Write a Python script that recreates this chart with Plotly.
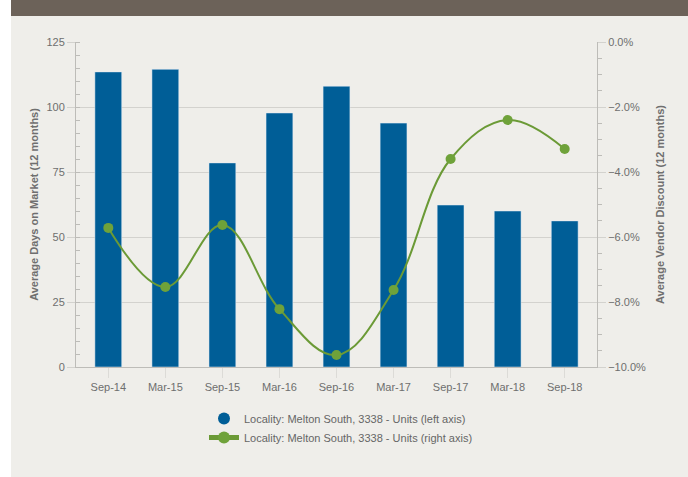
import plotly.graph_objects as go

categories = ["Sep-14", "Mar-15", "Sep-15", "Mar-16", "Sep-16", "Mar-17", "Sep-17", "Mar-18", "Sep-18"]
days_on_market = [113.5, 114.5, 78.5, 97.7, 108.0, 93.8, 62.3, 60.0, 56.2]
vendor_discount = [-5.72, -7.54, -5.63, -8.22, -9.63, -7.63, -3.60, -2.40, -3.29]
left_label = "Locality: Melton South, 3338 - Units (left axis)"
right_label = "Locality: Melton South, 3338 - Units (right axis)"

W, H = 688, 477
L, R, T, B = 76, 91, 42, 110
pw, ph = W - L - R, H - T - B

def px_x(p):
    return (p - L) / pw

def px_y(p):
    return (H - B - p) / ph

bar_color = "#005e97"
line_color = "#6b9a36"
marker_color = "#6fa23a"
font_color = "#6e6e6e"
grid_color = "#d3d2ce"
axis_color = "#bdbcb8"

fig = go.Figure()
fig.add_trace(go.Bar(x=categories, y=days_on_market, marker_color=bar_color,
                     width=0.47, showlegend=False, yaxis="y"))
fig.add_trace(go.Scatter(x=[None], y=[None], mode="markers", name=left_label,
                         marker=dict(symbol="circle", size=11, color=bar_color), yaxis="y"))
fig.add_trace(go.Scatter(x=categories, y=vendor_discount, mode="lines+markers", name=right_label,
                         line=dict(color=line_color, width=2, shape="spline", smoothing=1.1),
                         marker=dict(size=10, color=marker_color), yaxis="y2"))

fig.update_layout(
    width=W, height=H,
    margin=dict(l=L, r=R, t=T, b=B),
    paper_bgcolor="white",
    plot_bgcolor="rgba(0,0,0,0)",
    font=dict(family="Liberation Sans, Arial, sans-serif", size=11, color=font_color),
    bargap=0.5,
    xaxis=dict(type="category", showgrid=False, showline=True, linecolor=axis_color,
               ticks="outside", ticklen=10, tickcolor="#dcdbd7",
               tickfont=dict(size=11, color=font_color)),
    yaxis=dict(range=[0, 125], dtick=25, showgrid=True, gridcolor=grid_color, gridwidth=1,
               showline=True, linecolor=axis_color, ticks="outside", ticklen=8, tickcolor=grid_color,
               minor=dict(dtick=5, ticks="inside", ticklen=4, tickcolor=axis_color, showgrid=False),
               zeroline=False,
               title=dict(text="<b>Average Days on Market (12 months)</b>", font=dict(size=11, color="#6f6f6f"), standoff=5),
               tickfont=dict(size=11, color=font_color)),
    yaxis2=dict(range=[-10, 0], dtick=2, overlaying="y", side="right", showgrid=False,
                showline=True, linecolor=axis_color, ticks="outside", ticklen=8, tickcolor=grid_color,
                minor=dict(dtick=0.5, ticks="outside", ticklen=4, tickcolor=axis_color),
                zeroline=False, tickformat=".1f", ticksuffix="%",
                title=dict(text="<b>Average Vendor Discount (12 months)</b>", font=dict(size=11, color="#6f6f6f"), standoff=11),
                tickfont=dict(size=11, color=font_color)),
    legend=dict(x=px_x(204), y=px_y(404), xanchor="left", yanchor="top",
                bgcolor="rgba(0,0,0,0)", font=dict(size=11, color="#666666"),
                itemsizing="constant", tracegroupgap=2),
    shapes=[
        dict(type="rect", xref="paper", yref="paper", x0=px_x(11), x1=px_x(W), y0=px_y(H), y1=px_y(16),
             fillcolor="#efeeea", line_width=0, layer="below"),
        dict(type="rect", xref="paper", yref="paper", x0=px_x(11), x1=px_x(W), y0=px_y(16), y1=px_y(0),
             fillcolor="#6c6259", line_width=0, layer="below"),
    ],
)

fig.write_html("out.html", config={"displayModeBar": False},
               post_script="document.body.style.margin='0';document.body.style.overflow='hidden';")
